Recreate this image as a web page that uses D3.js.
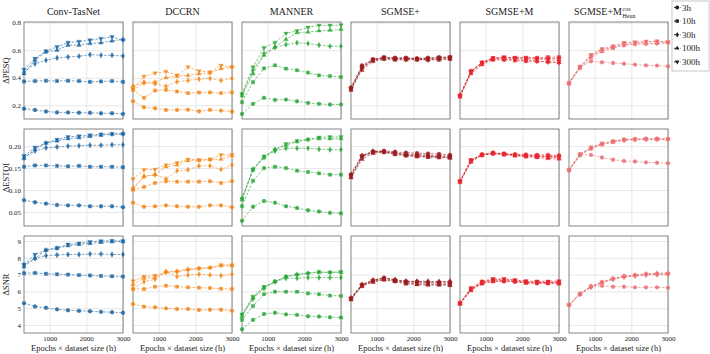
<!DOCTYPE html>
<html>
<head>
<meta charset="utf-8">
<script src="https://cdn.jsdelivr.net/npm/d3@7"></script>
<style>
body { margin: 0; background: #fff; }
text { font-family: "Liberation Serif", "Times New Roman", serif; fill: #222; }
</style>
</head>
<body>
<div id="container"></div>
<script>

var models = ["Conv-TasNet", "DCCRN", "MANNER", "SGMSE+", "SGMSE+M", "SGMSE+M"];
var modelColors = ["#1f5f94", "#f07f1e", "#2e9a3a", "#8c1c1f", "#d8262c", "#e06b6e"];
var metrics = ["ΔPESQ", "ΔESTOI", "ΔSNR"];
var hours = ["3h", "10h", "30h", "100h", "300h"];
var epochs = [300, 600, 900, 1200, 1500, 1800, 2100, 2400, 2700, 3000];

var xTicks = [1000, 2000, 3000];
var pesqTicks = [0.2, 0.4, 0.6, 0.8];
var estoiTicks = [0.05, 0.10, 0.15, 0.20];
var snrTicks = [4, 5, 6, 7, 8, 9];

//  rows: 3h, 10h, 30h, 100h, 300h

var pesqConvTasNet = [
    [0.175, 0.165, 0.155, 0.148, 0.148, 0.146, 0.145, 0.142, 0.142, 0.137],
    [0.373, 0.376, 0.378, 0.376, 0.378, 0.376, 0.370, 0.373, 0.376, 0.370],
    [0.440, 0.502, 0.527, 0.544, 0.551, 0.556, 0.568, 0.563, 0.563, 0.558],
    [0.430, 0.527, 0.588, 0.600, 0.637, 0.637, 0.649, 0.654, 0.668, 0.678],
    [0.460, 0.539, 0.593, 0.624, 0.656, 0.663, 0.673, 0.685, 0.697, 0.673]
];
var pesqDccrn = [
    [0.229, 0.185, 0.178, 0.166, 0.166, 0.168, 0.156, 0.166, 0.161, 0.154],
    [0.312, 0.254, 0.307, 0.312, 0.300, 0.288, 0.293, 0.293, 0.288, 0.293],
    [0.312, 0.361, 0.356, 0.337, 0.371, 0.380, 0.390, 0.395, 0.380, 0.395],
    [0.340, 0.368, 0.368, 0.400, 0.412, 0.417, 0.429, 0.434, 0.466, 0.478],
    [0.320, 0.410, 0.434, 0.444, 0.417, 0.478, 0.449, 0.441, 0.490, 0.478]
];
var pesqManner = [
    [0.137, 0.210, 0.254, 0.239, 0.241, 0.229, 0.217, 0.210, 0.205, 0.205],
    [0.222, 0.368, 0.468, 0.490, 0.466, 0.454, 0.437, 0.417, 0.412, 0.405],
    [0.278, 0.454, 0.576, 0.620, 0.641, 0.654, 0.649, 0.637, 0.629, 0.629],
    [0.270, 0.429, 0.563, 0.624, 0.678, 0.727, 0.732, 0.741, 0.746, 0.751],
    [0.283, 0.478, 0.617, 0.656, 0.722, 0.741, 0.766, 0.780, 0.780, 0.783]
];
var pesqSgmse = [
    [0.330, 0.490, 0.535, 0.550, 0.545, 0.545, 0.540, 0.545, 0.550, 0.550],
    [0.320, 0.480, 0.530, 0.545, 0.540, 0.540, 0.535, 0.535, 0.540, 0.545],
    [0.320, 0.475, 0.525, 0.540, 0.535, 0.535, 0.535, 0.530, 0.535, 0.540],
    [0.310, 0.455, 0.520, 0.535, 0.530, 0.530, 0.530, 0.530, 0.530, 0.535],
    [0.320, 0.470, 0.530, 0.545, 0.540, 0.540, 0.540, 0.540, 0.545, 0.550]
];
var pesqSgmseM = [
    [0.270, 0.450, 0.510, 0.540, 0.545, 0.540, 0.535, 0.535, 0.530, 0.525],
    [0.270, 0.445, 0.510, 0.540, 0.545, 0.545, 0.545, 0.545, 0.550, 0.550],
    [0.270, 0.440, 0.505, 0.535, 0.535, 0.530, 0.525, 0.520, 0.515, 0.510],
    [0.260, 0.430, 0.495, 0.530, 0.530, 0.525, 0.520, 0.520, 0.515, 0.510],
    [0.270, 0.445, 0.510, 0.545, 0.550, 0.545, 0.545, 0.540, 0.540, 0.540]
];
var pesqHeun = [
    [0.363, 0.478, 0.520, 0.512, 0.507, 0.502, 0.495, 0.490, 0.488, 0.483],
    [0.360, 0.480, 0.565, 0.605, 0.625, 0.650, 0.655, 0.660, 0.665, 0.660],
    [0.360, 0.475, 0.555, 0.600, 0.620, 0.640, 0.645, 0.650, 0.650, 0.655],
    [0.355, 0.470, 0.545, 0.590, 0.615, 0.635, 0.645, 0.645, 0.650, 0.655],
    [0.360, 0.480, 0.565, 0.610, 0.630, 0.655, 0.660, 0.665, 0.665, 0.660]
];

var estoiConvTasNet = [
    [0.077, 0.072, 0.069, 0.066, 0.065, 0.065, 0.063, 0.063, 0.063, 0.061],
    [0.153, 0.156, 0.156, 0.155, 0.154, 0.155, 0.153, 0.153, 0.153, 0.152],
    [0.174, 0.189, 0.196, 0.198, 0.200, 0.201, 0.202, 0.202, 0.203, 0.203],
    [0.172, 0.193, 0.207, 0.212, 0.217, 0.219, 0.222, 0.225, 0.227, 0.228],
    [0.178, 0.197, 0.207, 0.215, 0.221, 0.223, 0.225, 0.227, 0.228, 0.228]
];
var estoiDccrn = [
    [0.071, 0.062, 0.063, 0.065, 0.063, 0.062, 0.062, 0.065, 0.065, 0.061],
    [0.101, 0.107, 0.116, 0.120, 0.119, 0.119, 0.119, 0.120, 0.116, 0.120],
    [0.105, 0.131, 0.135, 0.125, 0.144, 0.146, 0.155, 0.155, 0.147, 0.157],
    [0.101, 0.131, 0.135, 0.153, 0.157, 0.167, 0.167, 0.169, 0.170, 0.178],
    [0.125, 0.146, 0.147, 0.157, 0.162, 0.170, 0.169, 0.170, 0.180, 0.180]
];
var estoiManner = [
    [0.030, 0.062, 0.075, 0.071, 0.063, 0.059, 0.054, 0.051, 0.048, 0.047],
    [0.063, 0.121, 0.150, 0.153, 0.150, 0.144, 0.141, 0.138, 0.135, 0.135],
    [0.081, 0.147, 0.174, 0.189, 0.195, 0.195, 0.195, 0.193, 0.192, 0.192],
    [0.078, 0.146, 0.174, 0.193, 0.202, 0.210, 0.215, 0.217, 0.217, 0.217],
    [0.080, 0.147, 0.177, 0.191, 0.205, 0.212, 0.215, 0.220, 0.221, 0.221]
];
var estoiSgmse = [
    [0.135, 0.178, 0.188, 0.189, 0.187, 0.185, 0.184, 0.183, 0.182, 0.180],
    [0.130, 0.175, 0.186, 0.187, 0.183, 0.180, 0.178, 0.176, 0.175, 0.174],
    [0.135, 0.178, 0.188, 0.188, 0.185, 0.182, 0.181, 0.179, 0.178, 0.177],
    [0.128, 0.170, 0.184, 0.186, 0.181, 0.178, 0.176, 0.175, 0.174, 0.173],
    [0.134, 0.177, 0.187, 0.187, 0.183, 0.179, 0.178, 0.177, 0.176, 0.176]
];
var estoiSgmseM = [
    [0.120, 0.168, 0.181, 0.183, 0.182, 0.181, 0.181, 0.180, 0.180, 0.179],
    [0.120, 0.167, 0.180, 0.183, 0.181, 0.179, 0.177, 0.176, 0.175, 0.174],
    [0.120, 0.166, 0.180, 0.184, 0.182, 0.180, 0.178, 0.177, 0.176, 0.176],
    [0.117, 0.164, 0.179, 0.184, 0.181, 0.178, 0.176, 0.174, 0.172, 0.171],
    [0.120, 0.168, 0.181, 0.185, 0.183, 0.181, 0.179, 0.178, 0.177, 0.177]
];
var estoiHeun = [
    [0.146, 0.181, 0.180, 0.174, 0.169, 0.166, 0.165, 0.163, 0.162, 0.161],
    [0.146, 0.182, 0.197, 0.206, 0.211, 0.215, 0.216, 0.216, 0.216, 0.216],
    [0.145, 0.180, 0.195, 0.204, 0.210, 0.214, 0.215, 0.216, 0.216, 0.216],
    [0.144, 0.179, 0.194, 0.204, 0.209, 0.213, 0.215, 0.215, 0.215, 0.216],
    [0.146, 0.181, 0.196, 0.205, 0.211, 0.215, 0.216, 0.217, 0.217, 0.216]
];

var snrConvTasNet = [
    [5.30, 5.10, 5.02, 4.93, 4.88, 4.84, 4.82, 4.78, 4.76, 4.73],
    [7.08, 7.10, 7.05, 7.02, 7.00, 6.97, 6.95, 6.92, 6.90, 6.88],
    [7.57, 7.97, 8.13, 8.17, 8.20, 8.20, 8.23, 8.23, 8.20, 8.20],
    [7.47, 7.97, 8.46, 8.56, 8.72, 8.80, 8.86, 8.92, 8.96, 8.96],
    [7.60, 8.20, 8.46, 8.60, 8.80, 8.86, 8.96, 9.00, 9.02, 9.00]
];
var snrDccrn = [
    [5.25, 5.09, 5.05, 4.99, 4.95, 4.95, 4.89, 4.91, 4.91, 4.85],
    [6.14, 6.14, 6.28, 6.34, 6.28, 6.24, 6.22, 6.20, 6.16, 6.14],
    [6.14, 6.58, 6.72, 7.17, 6.88, 6.98, 7.02, 6.98, 6.94, 7.02],
    [6.42, 6.78, 6.82, 7.17, 7.21, 7.33, 7.37, 7.41, 7.53, 7.53],
    [6.62, 6.88, 6.94, 7.13, 7.17, 7.27, 7.37, 7.41, 7.57, 7.57]
];
var snrManner = [
    [3.74, 4.30, 4.65, 4.73, 4.63, 4.60, 4.52, 4.50, 4.46, 4.44],
    [4.30, 5.13, 5.83, 5.98, 5.98, 5.98, 5.88, 5.83, 5.75, 5.73],
    [4.60, 5.55, 6.18, 6.58, 6.78, 6.78, 6.82, 6.82, 6.82, 6.82],
    [4.50, 5.63, 6.22, 6.58, 6.88, 7.02, 7.08, 7.13, 7.13, 7.13],
    [4.63, 5.69, 6.28, 6.58, 6.88, 6.98, 7.08, 7.17, 7.13, 7.17]
];
var snrSgmse = [
    [5.60, 6.40, 6.65, 6.80, 6.68, 6.60, 6.58, 6.55, 6.55, 6.55],
    [5.55, 6.35, 6.60, 6.70, 6.62, 6.50, 6.45, 6.42, 6.42, 6.40],
    [5.60, 6.40, 6.68, 6.80, 6.70, 6.60, 6.60, 6.60, 6.58, 6.60],
    [5.50, 6.30, 6.55, 6.70, 6.58, 6.45, 6.40, 6.38, 6.38, 6.35],
    [5.58, 6.38, 6.62, 6.78, 6.65, 6.55, 6.52, 6.50, 6.50, 6.48]
];
var snrSgmseM = [
    [5.30, 6.10, 6.50, 6.60, 6.60, 6.58, 6.52, 6.52, 6.52, 6.50],
    [5.28, 6.12, 6.52, 6.70, 6.70, 6.65, 6.58, 6.55, 6.55, 6.55],
    [5.30, 6.15, 6.55, 6.68, 6.65, 6.60, 6.55, 6.52, 6.52, 6.55],
    [5.25, 6.05, 6.45, 6.60, 6.62, 6.58, 6.50, 6.48, 6.48, 6.45],
    [5.30, 6.20, 6.60, 6.75, 6.75, 6.68, 6.62, 6.60, 6.60, 6.62]
];
var snrHeun = [
    [5.19, 5.85, 6.28, 6.34, 6.28, 6.28, 6.24, 6.24, 6.24, 6.22],
    [5.20, 5.85, 6.30, 6.55, 6.75, 6.90, 6.95, 7.02, 7.04, 7.05],
    [5.18, 5.83, 6.27, 6.50, 6.72, 6.85, 6.92, 6.98, 7.00, 7.00],
    [5.20, 5.85, 6.30, 6.55, 6.76, 6.90, 6.97, 7.05, 7.08, 7.10],
    [5.18, 5.82, 6.25, 6.52, 6.74, 6.88, 6.95, 7.00, 7.02, 7.04]
];

var panelData = [
    [pesqConvTasNet, pesqDccrn, pesqManner, pesqSgmse, pesqSgmseM, pesqHeun],
    [estoiConvTasNet, estoiDccrn, estoiManner, estoiSgmse, estoiSgmseM, estoiHeun],
    [snrConvTasNet, snrDccrn, snrManner, snrSgmse, snrSgmseM, snrHeun]
];

var rowTicks = [pesqTicks, estoiTicks, snrTicks];
var rowDomains = [[0.1, 0.805], [0.018, 0.239], [3.52, 9.3]];
var rowFormats = [".1f", ".2f", "d"];

var symbols = [d3.symbolCircle, d3.symbolSquare, d3.symbolDiamond, d3.symbolTriangle, d3.symbolTriangle];
var symbolSizes = [12, 11, 9, 9, 9];
var symbolRot = [0, 0, 0, 0, 180];

var pw = 99, ph = 97;
var panelLeft = 24, panelStep = 109;
var panelTop = [22, 129, 236];

var svg = d3.select("#container")
    .append("svg")
    .attr("width", 710)
    .attr("height", 354);

var x = d3.scaleLinear().domain([300, 3000]).range([0, pw]);

for (var r = 0; r < 3; r++) {

    var y = d3.scaleLinear().domain(rowDomains[r]).range([ph, 0]);

    for (var c = 0; c < 6; c++) {

        var color = modelColors[c];

        var g = svg.append("g")
            .attr("transform", "translate(" + (panelLeft + c * panelStep) + "," + panelTop[r] + ")");

        //  grid + ticks
        g.append("g").attr("class", "grid-y")
            .call(d3.axisLeft(y).tickValues(rowTicks[r]).tickSize(-pw).tickPadding(3)
                .tickFormat(c == 0 ? d3.format(rowFormats[r]) : ""));

        g.append("g").attr("class", "grid-x")
            .attr("transform", "translate(0," + ph + ")")
            .call(d3.axisBottom(x).tickValues(xTicks).tickSize(-ph).tickPadding(3)
                .tickFormat(r == 2 ? d3.format("d") : ""));

        g.selectAll(".domain").remove();
        g.selectAll(".tick line").attr("stroke", "#dedede").attr("stroke-width", 0.7);
        g.selectAll(".tick text").style("font-size", "7px").attr("fill", "#222");

        g.append("rect")
            .attr("width", pw)
            .attr("height", ph)
            .attr("fill", "none")
            .attr("stroke", "#666")
            .attr("stroke-width", 0.8);

        var series = panelData[r][c];

        var line = d3.line()
            .x(function(d, i) { return x(epochs[i]); })
            .y(function(d) { return y(d); });

        for (var s = 0; s < series.length; s++) {

            g.append("path")
                .datum(series[s])
                .attr("d", line)
                .attr("fill", "none")
                .attr("stroke", color)
                .attr("stroke-opacity", 0.65)
                .attr("stroke-width", 0.9)
                .attr("stroke-dasharray", "2.5,1.5");

            g.selectAll(".m" + s)
                .data(series[s])
                .enter()
                .append("path")
                .attr("class", "m" + s)
                .attr("d", d3.symbol().type(symbols[s]).size(symbolSizes[s]))
                .attr("transform", function(d, i) {
                    return "translate(" + x(epochs[i]) + "," + y(d) + ") rotate(" + symbolRot[s] + ")";
                })
                .attr("fill", color)
                .attr("fill-opacity", 0.85)
                .attr("stroke", d3.color(color).brighter(0.8))
                .attr("stroke-opacity", 0.6)
                .attr("stroke-width", 0.6);
        }

        //  titles
        if (r == 0) {
            var cx = panelLeft + c * panelStep + pw / 2;
            if (c < 5) {
                svg.append("text")
                    .attr("x", cx)
                    .attr("y", 14.5)
                    .attr("text-anchor", "middle")
                    .style("font-size", "10px")
                    .text(models[c]);
            } else {
                svg.append("text")
                    .attr("x", cx + 3.5)
                    .attr("y", 14.5)
                    .attr("text-anchor", "end")
                    .style("font-size", "10px")
                    .text(models[c]);
                svg.append("text")
                    .attr("x", cx + 4)
                    .attr("y", 11)
                    .style("font-size", "6px")
                    .text("cos");
                svg.append("text")
                    .attr("x", cx + 4)
                    .attr("y", 17.5)
                    .style("font-size", "6px")
                    .text("Heun");
            }
        }

        if (r == 2) {
            svg.append("text")
                .attr("x", panelLeft + c * panelStep + pw / 2)
                .attr("y", 351)
                .attr("text-anchor", "middle")
                .style("font-size", "8.5px")
                .text("Epochs × dataset size (h)");
        }
    }

    svg.append("text")
        .attr("transform", "translate(9," + (panelTop[r] + ph / 2) + ") rotate(-90)")
        .attr("text-anchor", "middle")
        .style("font-size", "8.5px")
        .text(metrics[r]);
}

//  legend

var legend = svg.append("g").attr("transform", "translate(672,1)");

legend.append("rect")
    .attr("width", 37)
    .attr("height", 70)
    .attr("fill", "#fff")
    .attr("stroke", "#bbb")
    .attr("stroke-width", 0.8);

hours.forEach(function(h, i) {

    var ly = 6.5 + i * 13.6;

    legend.append("line")
        .attr("x1", 2)
        .attr("x2", 8.5)
        .attr("y1", ly)
        .attr("y2", ly)
        .attr("stroke", "#222")
        .attr("stroke-width", 0.9)
        .attr("stroke-dasharray", "2,1");

    legend.append("path")
        .attr("d", d3.symbol().type(symbols[i]).size(symbolSizes[i]))
        .attr("transform", "translate(5.2," + ly + ") rotate(" + symbolRot[i] + ")")
        .attr("fill", "#222");

    legend.append("text")
        .attr("x", 10)
        .attr("y", ly + 3)
        .style("font-size", "9px")
        .text(h);
});

</script>
</body>
</html>
